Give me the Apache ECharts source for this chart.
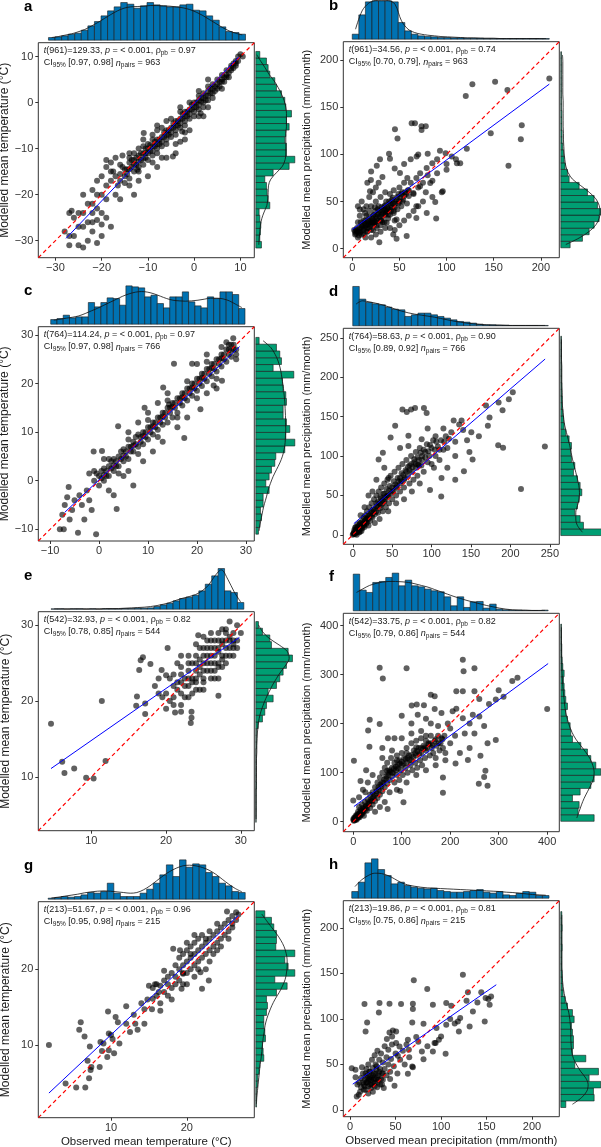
<!DOCTYPE html>
<html>
<head>
<meta charset="utf-8">
<script src="https://cdn.jsdelivr.net/npm/echarts@6/dist/echarts.min.js"></script>
<style>
html, body { margin: 0; padding: 0; background: #fff; }
#chart { width: 601px; height: 1147px; }
</style>
</head>
<body>
<div id="chart"></div>
<script>
// ---- panel a : temperature ----
var aRange = [-33.7, 13.0]
var aTicks = [-30, -20, -10, 0, 10]
var aFit = [[-27.7, -29.5], [9.6, 9.9]]
var aPoints = [
  [-16,-15.5],[-15.5,-14],[-15,-16],[-14.5,-14.5],[-14,-13],[-14,-16.5],[-13.5,-14],[-13,-12.5],[-13,-15],[-12.5,-13.5],
  [-12,-11.5],[-12,-14],[-11.5,-12.5],[-11,-11],[-11,-13.5],[-10.5,-10],[-10.5,-12],[-10,-11],[-10,-9],[-9.5,-10.5],
  [-9,-9.5],[-9,-11.5],[-8.5,-8.5],[-8,-10],[-8,-8],[-7.5,-9],[-7,-7.5],[-7,-9.5],[-6.5,-6.5],[-6,-8],
  [-6,-6],[-5.5,-7],[-5,-5.5],[-5,-7.5],[-4.5,-4.5],[-4,-6],[-4,-4],[-3.5,-5],[-3,-3.5],[-3,-5.5],
  [-2.5,-2.5],[-2,-4],[-2,-2],[-1.5,-3],[-1,-1.5],[-1,-3.5],[-0.5,-0.5],[0,-2],[0,0],[0.5,-1],
  [1,0.5],[1,-1.5],[1.5,1],[2,0],[2,2],[2.5,1.5],[3,2.5],[3,0.5],[3.5,3],[4,2],
  [4,4],[4.5,3.5],[5,5],[5,3],[5.5,4.5],[6,6],[6,4.5],[6.5,5.5],[7,7],[7,5.5],
  [7.5,6.5],[8,8],[8,7],[8.5,8.5],[9,9],[9,8],[9.5,10],[10,10.5],[10.5,10],[-3,-1],
  [-6,-4],[-8,-6],[1,2.5],[3,5],[-9,-7],[-12,-10],[-7,-12],[-4,-9],[-1,-6],[2,-3],
  [-2,-6.5],[-10.9,-6.6],[-4.6,-11.7],[-2.6,-6.3],[1.4,-2.3],[-12.3,-14.6],
  [-15,-14.5],[-14.5,-15.5],[-14,-14.5],[-13.5,-12.5],[-13,-13.5],[-12.5,-12],[-12,-12.8],[-11.5,-11],[-11,-12.2],[-10.5,-11],
  [-10,-10],[-9.5,-9.2],[-9,-10.5],[-8.5,-9.5],[-8,-9],[-7.5,-8],[-7,-8.5],[-6.5,-7.5],[-6,-7],[-5.5,-6],
  [-5,-6.5],[-4.5,-5.5],[-4,-5],[-3.5,-4],[-3,-4.5],[-2.5,-3.5],[-2,-3],[-1.5,-2],[-1,-2.5],[-0.5,-1.5],
  [0,-1],[0.5,0],[1,-0.5],[1.5,0.2],[2,1],[2.5,0.5],[3,1.5],[3.5,2],[4,3],[4.5,2.5],
  [5,4],[5.5,3.5],[6,5],[6.5,4.5],[7,6],[7.5,5.5],[8,7.5],[8.5,7.5],[9,8.5],[9.5,9],
  [-8,-11],[-6,-9],[-4,-7],[-2,-5],[0,-3],[2,-1],[4,1],[6,3],[-5,-3.5],[-3,-2],
  [-1,0],[1,1.5],[3,3.5],[-7,-5.5],[-9,-8],[-11,-9.5],[-13,-11],[-10,-12.5],[-12,-15],[-14,-12],
  [-16,-13.5],[-17,-16],[-16.5,-18],[-18,-15],[-15,-17.5],
  [-15.5,-11.5],[-17,-12],[-18,-13],[-19,-14],[-20,-16],[-17.5,-15],[-16,-17],[-18,-17],[-19,-18],[-20,-20],
  [-19,-21],[-21,-20],[-22,-19],[-22,-22],[-21,-23],[-20,-24],[-19,-25],[-18,-27],[-20,-26.5],[-21,-25.5],
  [-22,-24],[-23,-22],[-24,-24],[-25,-24],[-26,-25],[-27,-24],[-26.5,-23.5],[-24,-27],[-23,-26],[-25,-27],
  [-26,-29],[-27,-31],[-25,-31],[-24,-31.5],[-23,-30],[-22,-28],[-21,-30.5],[-20,-29],[-28,-28],[-27,-29],
  [-22,-26],[-17,-20],[-16,-21],[-14,-18],[-13,-20],[-12,-17],[-10,-16],[-8,-14],[-6,-12],[-4,-11],
  [-2,-8],[1,-3],[-19,-12.5],[-11,-8],[-8,-5],[-14,-11],[3,-1],[-3,-8.5],[-9,-13],[-21,-17],[-24,-20]
]
var aTopBins = [-31.5, 11.1]
var aTopCounts = [8,10,13,18,21,30,43,56,73,88,100,113,108,96,103,113,106,103,100,100,106,108,90,88,73,60,40,26,23,18]
var aTopDens = [8,11,15,19,25,32,42,53,65,77,88,96,100,101,102,104,104,103,102,100,97,92,84,74,62,50,38,28,21,16]
var aRightBins = [-31.6, 11.1]
var aRightCounts = [17,12,14,15,12,10,42,37,34,32,27,52,100,117,92,92,87,90,100,92,107,90,87,77,62,57,42,37,32,12]
var aRightDens = [9,10,12,14,18,25,33,36,37,38,45,62,80,88,90,90,90,90,92,92,92,90,85,77,67,55,40,28,15,3]
var aNote = ['{i|t}(961)=129.33, {i|p} = < 0.001, ρ{s|pb} = 0.97', 'CI{s|95%} [0.97, 0.98] {i|n}{s|pairs} = 963']

// ---- panel b : precipitation ----
var bRange = [-9.5, 219.6]
var bTicks = [0, 50, 100, 150, 200]
var bFit = [[0, 20.4], [209, 174.6]]
var bPoints = [
  [209,180.6],[151.5,177],[127.4,174.6],[120.4,162],[164.6,168.3],[146.9,122.5],[179.8,131],[178.8,116.2],[165.7,88],[121.5,106],
  [63,133],[66.5,133],[73.5,130],[78,130],[73.5,126],[45.3,126.8],[48,117],[39,100.7],[29.4,95],[40,95.4],
  [68.3,97.9],[80,100.7],[93,104],[99,101.4],[105.5,97.9],[111,90.8],[114.5,90.8],[96,61],[88,49.6],[79,38],
  [89,32],[68,45],[68,32.7],[57.7,13.4],[47,10.6],[43.5,15],[19.8,73],[18.8,61],[13.5,38],[8,41.5],
  [8,17],[28.7,7],[47,31],[36.5,27.5],[22.3,27.5],[50.6,80.3],[58.4,75],[78.9,85.6],[100,83.8],[82.7,69.7],
  [71.9,66.2],[64.8,59],[84.9,90.8],
  [5,18],[8,22],[10,15],[10,25],[12,20],[12,30],[14,24],[15,35],[15,18],[16,28],
  [18,22],[18,40],[20,30],[20,26],[20,45],[22,35],[22,20],[24,28],[24,40],[25,50],
  [26,32],[26,22],[28,38],[28,45],[30,30],[30,25],[30,55],[32,40],[32,34],[34,45],
  [34,28],[35,60],[36,38],[36,50],[38,42],[38,32],[40,48],[40,36],[40,58],[42,44],
  [42,52],[44,40],[44,62],[45,30],[46,48],[48,55],[48,42],[50,50],[50,65],[52,45],
  [52,58],[54,52],[55,70],[56,60],[58,48],[60,62],[60,56],[62,70],[65,58],[68,75],
  [70,65],[72,80],[75,70],[78,60],[80,78],[85,72],[90,80],[6,28],[8,35],[4,20],
  [3,15],[6,12],[15,45],[18,55],[22,60],[25,65],[28,70],[12,42],[10,50],[14,12],
  [20,12],[25,15],[30,18],[35,22],[40,22],[45,20],[50,25],[55,30],[60,35],[65,40],
  [70,45],[75,50],[85,55],[95,60],[32,76],[26,88],[45,85],[55,90],[62,95],[70,100],
  [90,95],[100,90],[110,95],[16,70],[6,45],[20,82],
  [4,16],[6,18],[7,20],[9,18],[10,22],[11,24],[13,22],[13,27],[15,25],[16,22],
  [17,30],[17,26],[19,28],[19,24],[21,28],[21,32],[23,30],[23,26],[23,36],[25,34],
  [25,28],[27,30],[27,36],[27,42],[29,34],[29,40],[31,36],[31,30],[31,44],[33,38],
  [33,42],[35,40],[35,36],[35,46],[37,44],[37,40],[39,42],[39,50],[41,46],[41,40],
  [43,48],[43,54],[45,50],[45,44],[47,52],[49,48],[49,58],[51,54],[53,50],[53,60],
  [55,56],[57,58],[59,62],[14,30],[18,34],[24,44],[9,28],[12,16],[16,18],[20,20],
  [26,25],[32,28],[38,36],[44,38],[5,22],[7,14],[3,18],[2,20]
]
var bTopBins = [0, 209]
var bTopCounts = [15,73,112,115,115,115,112,50,25,15,10,8,7,5,5,4,4,3,3,3,2,2,2,2,2,2,2,2,2,2]
var bTopDens = [30,85,108,116,117,116,105,55,30,20,15,12,10,8,7,6,5,4,4,3,3,3,2,2,2,2,2,2,2,2]
var bRightBins = [1, 209]
var bRightCounts = [28,65,85,100,115,120,110,100,80,55,25,20,13,10,8,6,4,4,3,3,3,2,2,2,2,2,2,2,2,2]
var bRightDens = [15,55,85,105,115,118,115,105,85,60,35,22,15,12,10,9,8,8,7,7,7,7,7,6,6,6,6,6,6,5]
var bNote = ['{i|t}(961)=34.56, {i|p} = < 0.001, ρ{s|pb} = 0.74', 'CI{s|95%} [0.70, 0.79], {i|n}{s|pairs} = 963']

// ---- panel c : temperature ----
var cRange = [-12.4, 31.7]
var cTicks = [-10, 0, 10, 20, 30]
var cFit = [[-7, -6.5], [28.7, 27.6]]
var cPoints = [
  [-1,0],[-0.5,1.5],[0,-1],[0,1],[0.5,2],[1,0],[1,2.5],[1.5,1],[2,3],[2,1],
  [2.5,4],[3,2],[3,4.5],[3.5,3],[4,5],[4,3],[4.5,6],[5,4],[5,6.5],[5.5,5],
  [6,7],[6,4.5],[6.5,6],[7,8],[7,6],[7.5,9],[8,7],[8,9.5],[8.5,8],[9,10],
  [9,7.5],[9.5,9],[10,11],[10,8.5],[10.5,10],[11,12],[11,9.5],[11.5,11],[12,13],[12,10.5],
  [12.5,12],[13,14],[13,11.5],[13.5,13],[14,15],[14,12],[14.5,14],[15,16],[15,13],[15.5,15],
  [16,17],[16,14],[16.5,16],[17,18],[17,15.5],[17.5,17],[18,19],[18,16.5],[18.5,18],[19,20],
  [19,17.5],[19.5,19],[20,21],[20,18.5],[20.5,20],[21,22],[21,19.5],[21.5,21],[22,23],[22,20.5],
  [22.5,22],[23,24],[23,21.5],[23.5,23],[24,25],[24,22.5],[24.5,24],[25,26],[25,23.5],[25.5,25],
  [26,27],[26,24.5],[26.5,26],[27,28],[27,25.5],[27.5,27],[28,27],[28,26],[26.5,28],[25,27.5],
  [0.5,0.5],[1.5,2],[2.5,2.5],[3.5,4],[4.5,4.5],[5.5,6],[6.5,7],[7.5,7.5],[8.5,9],[9.5,10],
  [10.5,11],[11.5,12],[12.5,13],[13.5,14],[14.5,15],[15.5,16],[16.5,17],[17.5,18],[18.5,19],[19.5,20],
  [20.5,21],[21.5,22],[22.5,23],[23.5,24],[24.5,25],[25.5,26],[26.5,27],[27.5,28],[1,1.2],[3,3.2],
  [5,5.2],[7,7.2],[9,9.2],[11,11.2],[13,13.2],[15,15.2],[17,17.2],[19,19.2],[21,21.2],[23,23.2],
  [25,25.2],[27,26.8],[2,4.5],[4,1.5],[6,8.5],[8,5.5],[10,12.5],[12,9],[14,16.5],[16,13],
  [18,20.5],[20,17],[22,24.5],[24,21],[26,28.5],[28,25],
  [-7.5,-7],[-8,-10],[-7.2,-10],[-6.5,-3.4],[-6.2,-1.3],[-5,-4],[-5.5,-6],[-4.3,-10.7],[-4,-3],[-3.5,-5],
  [-3,-8],[-2.5,-2],[-2,-4],[-1.5,-6],[-0.6,-11],[-1,2],[-1.1,6],[0.6,6.1],[-6,-8],[-7,-5],
  [2,-2],[3,-3],[3.6,-5.8],[5,1],[7,-1],[3.9,11.2],[6,10],[8,12],[10,14],[12,16],
  [14,18],[11,6],[13,8],[16,11],[18,13],[17.4,8.8],[20.7,14.7],[23.4,19.6],[25.1,20.6],[15.3,24.1],
  [19,24.1],[13.1,19.2],[9.3,15],[14.3,15.7],[27.4,29.3],[22,26],[20,24],[24,19],[22,18],[9,4],
  [6,2],[1,4.5],[-2,1.5]
]
var cTopBins = [-9.87, 29.8]
var cTopCounts = [14,17,27,19,22,22,65,52,65,79,77,57,115,112,109,82,87,62,49,82,82,97,67,55,49,82,77,97,97,89,47]
var cTopDens = [12,15,18,21,25,32,40,48,57,66,75,84,91,96,98,96,91,84,77,72,70,69,70,72,75,78,78,76,70,60,50]
var cRightBins = [-11.0, 29.5]
var cRightCounts = [8,12,17,14,22,22,40,30,40,47,57,60,87,117,90,102,92,82,82,92,90,82,80,114,52,77,72,62,10]
var cRightDens = [10,13,17,21,26,32,37,44,52,62,72,80,85,88,89,90,89,89,88,87,85,83,80,77,73,67,58,45,22]
var cNote = ['{i|t}(764)=114.24, {i|p} = < 0.001, ρ{s|pb} = 0.97', 'CI{s|95%} [0.97, 0.98] {i|n}{s|pairs} = 766']

// ---- panel d : precipitation ----
var dRange = [-12, 262]
var dTicks = [0, 50, 100, 150, 200, 250]
var dFit = [[1.3, 14.2], [244, 223]]
var dPoints = [
  [0,0],[1,2],[2,4],[3,1],[4,6],[5,3],[5,8],[6,5],[7,10],[8,6],
  [8,12],[9,4],[10,9],[10,15],[12,8],[12,18],[13,12],[14,22],[15,10],[15,16],
  [16,25],[17,14],[18,20],[18,30],[20,12],[20,24],[21,35],[22,18],[23,28],[24,40],
  [25,22],[26,32],[27,45],[28,15],[28,26],[30,36],[30,50],[32,28],[32,42],[33,55],
  [34,20],[35,34],[35,48],[36,60],[38,40],[38,30],[39,52],[40,65],[41,45],[42,35],
  [43,58],[44,70],[45,50],[46,40],[47,62],[48,75],[50,55],[50,45],[52,68],[53,80],
  [55,60],[55,50],[57,72],[58,85],[60,65],[60,55],[62,78],[63,90],[65,70],[65,60],
  [67,82],[68,95],[70,75],[72,65],[72,88],[74,100],[75,80],[77,70],[78,92],[80,85],
  [80,105],[82,75],[84,95],[85,110],[87,88],[88,100],[90,80],[92,105],[94,115],[95,92],
  [97,100],[100,110],[100,90],[102,120],[105,100],[108,112],[110,95],[112,120],[115,108],[118,125],
  [120,110],[125,130],[130,118],[135,140],[138,145],[128,145],[115,135],[105,125],[45,30],[55,40],
  [65,45],[75,55],[85,65],[10,25],[15,35],[25,55],[30,70],
  [1,1],[2,2],[3,3],[4,4],[5,5],[6,7],[7,6],[8,8],[9,10],[10,11],
  [11,9],[12,13],[13,14],[14,12],[15,17],[16,18],[17,20],[18,16],[19,22],[20,20],
  [22,25],[24,24],[24,30],[26,28],[28,33],[30,30],[30,40],[32,36],[34,40],[36,38],
  [36,46],[38,44],[40,42],[40,52],[42,48],[44,50],[46,56],[48,52],[50,60],[52,56],
  [54,64],[56,62],[58,68],[60,72],[62,68],[64,76],[66,72],[68,80],[70,86],[72,82],
  [74,90],[76,86],[78,96],[80,90],[82,98],[84,88],[86,104],[88,95],[90,108],[92,98],
  [96,106],[98,114],[104,108],[106,118],[110,108],[116,118],[122,122],[3,9],[6,13],[9,15],
  [2,6],[4,10],[5,0],[8,3],[11,5],
  [243.7,112],[213.4,58],[203,181],[198,172],[190,158],[185,168],[169,164],[173.5,149],[171.4,138.5],[184.5,113.6],
  [190.7,110.6],[140,133],[150.4,130],[152,95.6],[148,105],[141,80.6],[112.6,72],[98,57],[63,159],[68.5,155.7],
  [74,159],[79,161],[90.3,161],[93.7,154.4],[53.8,138.5],[48,123.5],[32.8,95.6],[38.2,104],[70.6,125.6],[70.6,112.8],
  [87.4,121.4],[45.4,72],[83,89],[103,85],[112.2,48.5],[160,125],[120,85],[130,100],[95,135],[60,110],
  [40,85],[20,50],[130,70],[145,120]
]
var dTopBins = [0, 248]
var dTopCounts = [118,80,70,66,63,56,50,48,28,33,38,38,33,28,23,18,13,11,8,5,3,3,2,2,1,1,1,1,1,1]
var dTopDens = [65,75,72,68,63,57,50,44,39,35,32,29,26,22,18,14,11,8,6,4,3,2,2,1,1,1,1,1,1,1]
var dRightBins = [-0.9, 252]
var dRightCounts = [123,68,58,42,50,55,63,58,50,38,42,32,30,32,25,15,10,8,6,4,4,3,3,2,2,2,2,2,2,2]
var dRightDens = [65,50,45,45,50,55,56,54,50,45,40,35,31,27,22,17,12,9,7,5,4,4,3,3,3,3,2,2,2,2]
var dNote = ['{i|t}(764)=58.63, {i|p} = < 0.001, ρ{s|pb} = 0.90', 'CI{s|95%} [0.89, 0.92] {i|n}{s|pairs} = 766']

// ---- panel e : temperature ----
var eRange = [2.9, 31.8]
var eTicks = [10, 20, 30]
var eFit = [[4.6, 11.1], [29.8, 28.4]]
var ePoints = [
  [19.5,20.5],[20,21],[20.5,20],[21,22],[21,20.5],[21.5,21.5],[22,22.5],[22,21],[22.5,23],[22.5,20.5],
  [23,22],[23,24],[23.5,23],[23.5,25],[24,22.5],[24,24],[24,26],[24.5,23.5],[24.5,25.5],[25,24],
  [25,26],[25,22.5],[25.5,25],[25.5,27],[26,24],[26,26],[26,28],[26.5,25],[26.5,27],[27,24.5],
  [27,26.5],[27,28],[27.5,25.5],[27.5,27.5],[28,26],[28,28],[28,29.5],[28.5,27],[28.5,28.5],[29,27.5],
  [29,29],[29.5,28],[29.5,30],[30,29],[28.5,30.5],[26,29],[24,27.5],[23,26],[22,24.5],[21,23.5],
  [20.5,23],[25,21.5],[27,23],[29,26],[26.5,23],[24.5,21.5],[22,19.5],[21,19.5],[23,20.5],[20,19],
  [25,28.5],[27.5,29.5],[29.5,27],
  [22.5,22],[23,23],[23.5,22.5],[24,23],[24,25],[24.5,24.5],[25,23],[25,25],[25,27],[25.5,24],
  [25.5,26],[26,25],[26,27],[26.5,24],[26.5,26],[26.5,28],[27,25],[27,27],[27,29],[27.5,26],
  [27.5,28],[28,25],[28,27],[28,29],[28.5,26],[28.5,28],[29,28],[23,25],[24.5,27],[22,23.5],
  [21.5,22.5],[26,23],[27.5,24.5],[29,27],[25.5,28],[23.5,21],[24,21.5],
  [4.6,17],[6.1,12],[6.4,10.5],[7.7,11.1],[9.3,9.9],[10.3,9.8],[11.4,20],[11.9,12.1],[16,19.4],[16.1,20.6],
  [16.6,25.4],[16.4,24.1],[16.9,25.8],[17.2,18.3],[17.2,19.7],[17.9,24.9],[19.4,24.1],[19,23],[20.2,27],[20,23.4],
  [21.2,18.5],[22,18.6],[23.4,18.6],[23.4,17.8],[23.3,17.1],[27,20.7],[24.3,28.7],[18.5,22],[19,21],[22,26],
  [21.5,25]
]
var eTopBins = [4.6, 30.4]
var eTopCounts = [1,1,0,1,1,0,1,0,1,1,1,2,2,3,3,4,8,13,18,25,32,36,42,55,75,100,122,55,50,20]
var eTopDens = [1,1,1,1,1,1,1,1,2,2,2,3,4,5,6,8,11,15,20,27,33,38,44,55,72,100,118,90,52,22]
var eRightBins = [4.0, 30.5]
var eRightCounts = [1,1,1,1,1,2,1,1,1,1,1,2,2,2,7,20,27,32,52,37,62,72,82,92,110,97,47,42,20,8]
var eRightDens = [1,1,1,1,1,1,2,2,2,2,3,3,4,5,7,10,15,22,30,40,50,62,75,90,100,95,70,40,20,8]
var eNote = ['{i|t}(542)=32.93, {i|p} = < 0.001, ρ{s|pb} = 0.82', 'CI{s|95%} [0.78, 0.85] {i|n}{s|pairs} = 544']

// ---- panel f : precipitation ----
var fRange = [-20.5, 425]
var fTicks = [0, 100, 200, 300, 400]
var fFit = [[1.4, 30.9], [402, 322.5]]
var fPoints = [
  [0,5],[2,8],[3,3],[5,12],[6,6],[8,15],[10,8],[10,20],[12,30],[14,12],
  [15,25],[18,18],[18,35],[20,28],[22,12],[24,40],[25,30],[28,22],[30,45],[32,35],
  [35,28],[35,55],[38,42],[40,60],[40,35],[42,50],[45,70],[45,42],[48,58],[50,80],
  [50,48],[53,65],[55,90],[55,55],[58,72],[60,100],[60,62],[62,80],[65,110],[65,70],
  [68,88],[70,120],[70,78],[72,95],[75,105],[75,85],[78,130],[80,92],[80,110],[82,100],
  [85,120],[85,80],[88,105],[90,135],[90,95],[92,115],[95,125],[95,85],[98,105],[100,140],
  [100,115],[102,95],[105,130],[108,110],[110,150],[110,120],[112,100],[115,135],[118,115],[120,160],
  [120,125],[122,105],[125,145],[128,120],[130,165],[130,135],[132,110],[135,150],[138,125],[140,170],
  [140,140],[142,115],[145,155],[148,130],[150,175],[150,145],[155,160],[158,135],[160,175],[162,150],
  [165,140],[168,165],[170,130],[172,155],[175,175],[178,145],[180,160],[182,170],[185,150],[188,175],
  [190,140],[30,80],[40,95],[60,130],[80,145],[100,170],[120,180],[140,185],[20,65],[150,105],
  [170,115],[190,125],[130,95],[110,80],[90,65],[75,60],[65,40],[55,30],[45,20],
  [1,2],[2,4],[3,6],[4,8],[5,5],[6,10],[7,4],[8,9],[9,12],[10,14],
  [11,10],[12,16],[13,9],[14,18],[16,14],[17,22],[19,16],[20,20],[22,26],[24,22],
  [26,32],[28,28],[30,36],[33,40],[36,44],[40,48],[44,54],[48,62],[52,70],[56,76],
  [60,80],[64,86],[68,92],[72,100],[76,102],[80,100],[84,108],[88,112],[92,108],[96,118],
  [100,122],[104,118],[108,128],[112,130],[116,126],[120,136],[124,132],[128,140],[132,144],[136,138],
  [140,150],[144,148],[148,152],[152,150],[156,158],[160,160],[164,156],[170,168],[176,160],[184,168],
  [70,104],[90,125],[110,140],[130,152],[150,165],
  [400,229.8],[226,330],[227.6,307],[250,313],[328,287],[338.7,293.7],[300,268],[54.5,314],[110,313],[61,292],
  [160,259],[168,256],[145.8,237.4],[34,208],[54.5,199],[168,230],[182,221.6],[212.6,266],[226,266],[250,266],
  [294,249],[212.6,230.5],[226,211],[246.6,218],[260,214.7],[277,160],[294,166.7],[272.6,103.6],[262.4,134.5],[270,91],
  [277,73.4],[259,77.5],[236.5,125.6],[211,118.7],[185,90],[185,59],[96.8,62.4],[103.6,39.8],[70.9,26],[0,43],
  [1.4,124],[15,83],[26.6,105],[71.6,170],[30.7,186],[33.4,153],[131,238.8],[133,218],[100,216],[120.6,236.7],
  [200,190],[210,175],[230,180],[240,150],[220,140],[200,160],[195,200],[205,225],[260,250],[280,240],
  [310,255],[240,200],[250,180],[270,195],[160,200],[150,210],[175,195],[120,200],[85,170],[60,150],
  [25,60],[12,50]
]
var fTopBins = [0, 402]
var fTopCounts = [110,62,55,85,88,100,113,75,92,75,72,65,60,57,42,15,42,10,27,28,8,20,5,3,2,2,1,1,1,2]
var fTopDens = [55,66,76,82,86,88,88,87,85,81,76,71,64,57,50,43,37,31,26,21,16,12,8,5,3,2,2,1,1,1]
var fRightBins = [0.7, 403]
var fRightCounts = [100,52,55,35,58,90,100,120,105,90,80,60,35,30,28,20,15,20,15,12,10,8,10,6,4,3,3,2,2,2]
var fRightDens = [48,55,62,70,80,90,98,100,96,88,75,60,45,34,26,20,15,12,10,8,6,5,4,3,3,2,2,2,2,2]
var fNote = ['{i|t}(542)=33.75, {i|p} = < 0.001, ρ{s|pb} = 0.82', 'CI{s|95%} [0.79, 0.86] {i|n}{s|pairs} = 544']

// ---- panel g : temperature ----
var gRange = [0.4, 28.9]
var gTicks = [10, 20]
var gFit = [[1.8, 3.65], [26.8, 27.1]]
var gPoints = [
  [1.8,10],[4,4.9],[5.4,4.4],[5.8,12],[6,13],[6.5,11.1],[6.6,4.4],[6.9,7.9],[7.1,5.6],[7.2,9.8],
  [7.3,6.7],[7.4,7.1],[8.5,7.1],[8.6,10.4],[9,10.2],[8.8,9.2],[9.6,14.4],[9.7,9.3],[9.5,8.4],[9.7,11.5],
  [10,11.3],[10.2,10.8],[10.4,8.9],[10.6,13.7],[10.9,13],[11.1,10.2],[12,15.1],[12,12.8],[12.5,11.7],[13.2,12.8],
  [13.5,12],[14.4,12.8],[14.4,14.7],[15.4,14.7],[15.5,16.1],[16.5,15.5],[16.3,17],[19.3,17.4],[19.5,19.4],[21.8,19.6],
  [22,17.4],[22.9,18.5],[18.2,22.7],[19.1,22.5],
  [14.8,16],[15,17.8],[15.5,17.5],[16,16.5],[16,18],[16.5,17.8],[17,17],[17,18.5],[17.5,18],[18,17.5],
  [18,19.5],[18.5,19],[18.5,20.5],[19,18.5],[19,20],[19,21.5],[19.5,20.5],[19.5,22],[20,19.5],[20,21],
  [20,22.5],[20.5,20],[20.5,21.5],[20.5,23],[21,20.5],[21,22],[21,23.5],[21.5,21],[21.5,22.5],[21.5,24],
  [22,21.5],[22,23],[22,24.5],[22.5,22],[22.5,23.5],[23,22.5],[23,24],[23,25],[23.5,23],[23.5,24.5],
  [24,23.5],[24,25],[24,26],[24.5,24],[24.5,25.5],[25,24.5],[25,26],[25.5,25],[25.5,26.5],[26,27],
  [26,25.5],[26.5,27.5],[25.3,27.6],[26.8,27.2],[23,21],[21,19],[19.5,18],[17.5,16.5],[24,22.5],[22.5,20],
  [20,18],[18,16],[16.5,14.5],[14,15.5],[13,14],[17,19.8],[15.8,18],
  [17.5,19],[18.5,18],[19.5,19.5],[20.5,22],[21.5,20],[22.5,24],[23.5,22],[24.5,23],[25.5,24],[26,26],
  [26.5,26.5],[20,23.5],[21,24.5]
]
var gTopBins = [1.7, 27.7]
var gTopCounts = [3,5,8,6,8,13,20,18,23,48,18,8,8,8,18,30,48,73,103,68,118,96,106,103,80,68,48,40,23,20]
var gTopDens = [4,6,9,12,15,19,22,24,25,24,22,20,18,20,28,40,55,70,83,93,100,102,100,95,87,75,60,45,32,22]
var gRightBins = [1.8, 27.7]
var gRightCounts = [2,2,2,5,6,10,12,24,22,20,29,27,24,24,32,35,32,62,94,57,117,97,87,117,60,62,62,54,47,27]
var gRightDens = [2,3,5,7,9,11,13,16,18,20,22,25,28,33,40,48,58,70,80,88,92,94,94,91,85,75,62,47,32,18]
var gNote = ['{i|t}(213)=51.67, {i|p} = < 0.001, ρ{s|pb} = 0.96', 'CI{s|95%} [0.95, 0.98] {i|n}{s|pairs} = 215']

// ---- panel h : precipitation ----
var hRange = [-7.5, 230]
var hTicks = [0, 50, 100, 150, 200]
var hFit = [[2.9, 28.3], [160.7, 137.6]]
var hPoints = [
  [124,148.6],[70,142.4],[84.8,132.8],[15.8,116.3],[32.3,117.4],[43.3,116.7],[56,116.3],[69,110.8],[69,116.7],[91,115.6],
  [105.7,117.4],[111.2,114.5],[129.5,129.2],[144.2,129.2],[155,124.8],[153.4,115.6],[149,123],[148,97.2],[135,108.3],[131.4,91.7],
  [119.6,86.2],[121,101],[118.5,97.2],[105.7,93.6],[100,80.7],[94,73.4],[91,64.2],[92.8,73.4],[105,61.6],[97.6,77],
  [80.7,94.7],[68.3,96],[63.5,77],[64.6,66],[72.7,80],[78.9,64.2],[80.7,55.8],[68.3,47.7],[69,47],[63.5,39.6],
  [52.5,59.4],[54.3,69.7],[50.6,73.4],[50.6,86.2],[47,87.3],[43.3,85],[40.4,77.8],[46.2,80.7],[18.7,96],[17,86.2],
  [31.6,107],[48.8,26.4],[29.7,25],[9.5,16.5],[7.3,14.7],[1.8,45.9],[5.9,44],
  [10,30],[12,35],[12,25],[14,40],[15,28],[16,33],[17,22],[18,45],[18,30],[19,38],
  [20,26],[20,50],[21,34],[22,42],[22,28],[23,24],[24,36],[24,55],[25,30],[25,46],
  [26,40],[27,26],[27,60],[28,34],[28,50],[29,44],[30,30],[30,65],[31,38],[32,55],
  [33,28],[33,45],[34,62],[35,40],[36,33],[36,52],[38,70],[38,45],[40,38],[40,58],
  [42,50],[42,66],[44,42],[45,56],[46,72],[48,48],[50,62],[52,40],[55,55],[58,65],
  [60,50],[62,72],[65,58],[75,75],[85,70],[110,100],[128,120],[140,118],[152,122],[115,95],
  [95,90],[35,28],[25,20],[20,18],[15,22],[8,28],[11,20],[37,24],[44,34],[13,47],[6,36],
  [14,30],[16,26],[18,36],[20,32],[22,36],[24,28],[26,34],[28,40],[30,36],[32,42],
  [34,34],[36,40],[19,30],[23,33],[27,30],[31,33],[17,40],[21,42],[29,48],[25,38]
]
var hTopBins = [1.8, 218.7]
var hTopCounts = [20,48,106,118,86,68,43,48,38,33,30,28,30,23,20,18,18,20,23,26,18,15,20,10,8,15,20,18,8,8]
var hTopDens = [35,55,68,75,74,68,58,47,40,36,33,31,30,29,28,27,26,25,24,23,22,21,20,18,17,15,13,11,10,9]
var hRightBins = [2.6, 218]
var hRightCounts = [15,100,98,120,85,113,42,75,35,38,38,35,32,40,35,20,13,7,5,4,4,3,3,3,4,3,3,4,3,3]
var hRightDens = [35,62,78,82,75,60,48,38,33,31,30,30,29,27,24,19,14,10,7,5,4,3,3,3,3,3,3,3,3,3]
var hNote = ['{i|t}(213)=19.86, {i|p} = < 0.001, ρ{s|pb} = 0.81', 'CI{s|95%} [0.75, 0.86] {i|n}{s|pairs} = 215']

var tempTitle = 'Modelled mean temperature (°C)'
var precTitle = 'Modelled mean precipitation (mm/month)'
var obsTempTitle = 'Observed mean temperature (°C)'
var obsPrecTitle = 'Observed mean precipitation (mm/month)'

var FONT = '"Liberation Sans", Arial, sans-serif'
var HIST_MAX = 126 // histogram heights are read in the same units for every panel
var HIST_SIZE = 42

// layout: plot box [left, top, width, height]
var panels = [
  { id: 'a', box: [38.3, 42.7, 216, 215], range: aRange, ticks: aTicks, fit: aFit, points: aPoints, topBins: aTopBins, topCounts: aTopCounts, topDens: aTopDens, rightBins: aRightBins, rightCounts: aRightCounts, rightDens: aRightDens, note: aNote, yName: tempTitle, yGap: 27, ySize: 12 },
  { id: 'b', box: [343.3, 41.7, 216, 216], range: bRange, ticks: bTicks, fit: bFit, points: bPoints, topBins: bTopBins, topCounts: bTopCounts, topDens: bTopDens, rightBins: bRightBins, rightCounts: bRightCounts, rightDens: bRightDens, note: bNote, yName: precTitle, yGap: 31, ySize: 11 },
  { id: 'c', box: [38.3, 326.7, 216, 214.3], range: cRange, ticks: cTicks, fit: cFit, points: cPoints, topBins: cTopBins, topCounts: cTopCounts, topDens: cTopDens, rightBins: cRightBins, rightCounts: cRightCounts, rightDens: cRightDens, note: cNote, yName: tempTitle, yGap: 27, ySize: 12 },
  { id: 'd', box: [343.3, 328.3, 216, 216], range: dRange, ticks: dTicks, fit: dFit, points: dPoints, topBins: dTopBins, topCounts: dTopCounts, topDens: dTopDens, rightBins: dRightBins, rightCounts: dRightCounts, rightDens: dRightDens, note: dNote, yName: precTitle, yGap: 31, ySize: 11 },
  { id: 'e', box: [38.3, 611.7, 216, 219], range: eRange, ticks: eTicks, fit: eFit, points: ePoints, topBins: eTopBins, topCounts: eTopCounts, topDens: eTopDens, rightBins: eRightBins, rightCounts: eRightCounts, rightDens: eRightDens, note: eNote, yName: tempTitle, yGap: 27, ySize: 12 },
  { id: 'f', box: [343.3, 613.3, 216, 218.4], range: fRange, ticks: fTicks, fit: fFit, points: fPoints, topBins: fTopBins, topCounts: fTopCounts, topDens: fTopDens, rightBins: fRightBins, rightCounts: fRightCounts, rightDens: fRightDens, note: fNote, yName: precTitle, yGap: 31, ySize: 11 },
  { id: 'g', box: [38.3, 901.7, 216, 216], range: gRange, ticks: gTicks, fit: gFit, points: gPoints, topBins: gTopBins, topCounts: gTopCounts, topDens: gTopDens, rightBins: gRightBins, rightCounts: gRightCounts, rightDens: gRightDens, note: gNote, yName: tempTitle, yGap: 27, ySize: 12, xName: obsTempTitle },
  { id: 'h', box: [343.3, 900.7, 216, 216], range: hRange, ticks: hTicks, fit: hFit, points: hPoints, topBins: hTopBins, topCounts: hTopCounts, topDens: hTopDens, rightBins: hRightBins, rightCounts: hRightCounts, rightDens: hRightDens, note: hNote, yName: precTitle, yGap: 31, ySize: 11, xName: obsPrecTitle }
]

function minus (v) { return String(v).replace('-', '\u2212') }

// bins from a range and its counts: [lo, hi, count]
function makeBins (range, counts) {
  var w = (range[1] - range[0]) / counts.length
  return counts.map(function (c, k) { return [range[0] + k * w, range[0] + (k + 1) * w, c] })
}
function centers (range, dens) {
  var w = (range[1] - range[0]) / dens.length
  return dens.map(function (d, k) { return [range[0] + (k + 0.5) * w, d] })
}

var option = { animation: false, backgroundColor: '#fff', grid: [], xAxis: [], yAxis: [], series: [], graphic: [] }

panels.forEach(function (p, i) {
  var L = p.box[0], T = p.box[1], W = p.box[2], H = p.box[3]
  var g0 = i * 3, g1 = g0 + 1, g2 = g0 + 2
  var ticks = p.ticks
  var axisFont = { fontFamily: FONT, fontSize: 11, color: '#333' }

  // grids: scatter, top histogram, right histogram
  option.grid.push({ left: L, top: T, width: W, height: H, show: true, borderColor: '#333', borderWidth: 1, backgroundColor: '#fff', outerBoundsMode: 'none' })
  option.grid.push({ left: L, top: T - 2.5 - HIST_SIZE, width: W, height: HIST_SIZE, outerBoundsMode: 'none' })
  option.grid.push({ left: L + W + 1.5, top: T, width: HIST_SIZE, height: H, outerBoundsMode: 'none' })

  option.xAxis.push({
    gridIndex: g0, type: 'value', min: p.range[0], max: p.range[1], position: 'bottom',
    axisLine: { show: false, onZero: false }, splitLine: { show: false },
    axisTick: { show: true, length: 3, lineStyle: { color: '#333' }, customValues: ticks },
    axisLabel: Object.assign({ customValues: ticks, margin: 4.5, formatter: minus }, axisFont),
    name: p.xName || '', nameLocation: 'middle', nameGap: 18,
    nameTextStyle: { fontFamily: FONT, fontSize: 11.5, color: '#1a1a1a' }
  })
  option.yAxis.push({
    gridIndex: g0, type: 'value', min: p.range[0], max: p.range[1], position: 'left',
    axisLine: { show: false, onZero: false }, splitLine: { show: false },
    axisTick: { show: true, length: 3, lineStyle: { color: '#333' }, customValues: ticks },
    axisLabel: Object.assign({ customValues: ticks, margin: 5, formatter: minus }, axisFont),
    name: p.yName, nameLocation: 'middle', nameGap: p.yGap,
    nameTextStyle: { fontFamily: FONT, fontSize: p.ySize, color: '#1a1a1a' }
  })
  option.xAxis.push({ gridIndex: g1, type: 'value', min: p.range[0], max: p.range[1], show: false })
  option.yAxis.push({ gridIndex: g1, type: 'value', min: 0, max: HIST_MAX, show: false })
  option.xAxis.push({ gridIndex: g2, type: 'value', min: 0, max: HIST_MAX, show: false })
  option.yAxis.push({ gridIndex: g2, type: 'value', min: p.range[0], max: p.range[1], show: false })

  // scatter + 1:1 line + fitted line
  option.series.push({
    type: 'scatter', xAxisIndex: g0, yAxisIndex: g0, data: p.points,
    symbolSize: 6, itemStyle: { color: 'rgba(0,0,0,0.78)' }, silent: true, z: 2
  })
  option.series.push({
    type: 'line', xAxisIndex: g0, yAxisIndex: g0, symbol: 'none', silent: true, z: 4,
    data: [[p.range[0], p.range[0]], [p.range[1], p.range[1]]],
    lineStyle: { color: '#ff0000', width: 1.2, type: [4, 3] }
  })
  option.series.push({
    type: 'line', xAxisIndex: g0, yAxisIndex: g0, symbol: 'none', silent: true, z: 5,
    data: p.fit, lineStyle: { color: '#0000ff', width: 1 }
  })

  // top histogram with density curve
  option.series.push({
    type: 'custom', xAxisIndex: g1, yAxisIndex: g1, silent: true, z: 2, data: makeBins(p.topBins, p.topCounts),
    encode: { x: [0, 1], y: 2 },
    renderItem: function (params, api) {
      var p0 = api.coord([api.value(0), 0])
      var p1 = api.coord([api.value(1), api.value(2)])
      return { type: 'rect', shape: { x: p0[0], y: p1[1], width: p1[0] - p0[0], height: p0[1] - p1[1] }, style: { fill: '#0072B2', stroke: '#1a1a1a', lineWidth: 0.6 } }
    }
  })
  option.series.push({
    type: 'line', xAxisIndex: g1, yAxisIndex: g1, symbol: 'none', silent: true, z: 3, smooth: 0.35,
    data: centers(p.topBins, p.topDens), lineStyle: { color: '#111', width: 0.8 }
  })

  // right histogram with density curve
  option.series.push({
    type: 'custom', xAxisIndex: g2, yAxisIndex: g2, silent: true, z: 2, data: makeBins(p.rightBins, p.rightCounts),
    encode: { x: 2, y: [0, 1] },
    renderItem: function (params, api) {
      var p0 = api.coord([0, api.value(0)])
      var p1 = api.coord([api.value(2), api.value(1)])
      return { type: 'rect', shape: { x: p0[0], y: p1[1], width: p1[0] - p0[0], height: p0[1] - p1[1] }, style: { fill: '#009E73', stroke: '#1a1a1a', lineWidth: 0.6 } }
    }
  })
  option.series.push({
    type: 'line', xAxisIndex: g2, yAxisIndex: g2, symbol: 'none', silent: true, z: 3, smooth: 0.35,
    data: centers(p.rightBins, p.rightDens).map(function (q) { return [q[1], q[0]] }),
    lineStyle: { color: '#111', width: 0.8 }
  })

  // panel letter and statistics text
  option.graphic.push({
    type: 'text', left: (i % 2 === 0 ? 24 : 329), top: T - 43.5,
    style: { text: p.id, font: 'bold 15px ' + FONT, fill: '#000' }
  })
  var rich = {
    i: { fontStyle: 'italic', fontFamily: FONT, fontSize: 9, lineHeight: 12, verticalAlign: 'middle' },
    s: { fontFamily: FONT, fontSize: 6.5, verticalAlign: 'bottom' }
  }
  p.note.forEach(function (line, k) {
    option.graphic.push({
      type: 'text', x: L + 5.5, y: T + 8 + 12.3 * k, z: 10,
      style: { text: line, rich: rich, fontFamily: FONT, fontSize: 9, lineHeight: 12, fill: '#1a1a1a', verticalAlign: 'middle', align: 'left' }
    })
  })
})

var chart = echarts.init(document.getElementById('chart'), null, { renderer: 'canvas' })
chart.setOption(option)
</script>
</body>
</html>
